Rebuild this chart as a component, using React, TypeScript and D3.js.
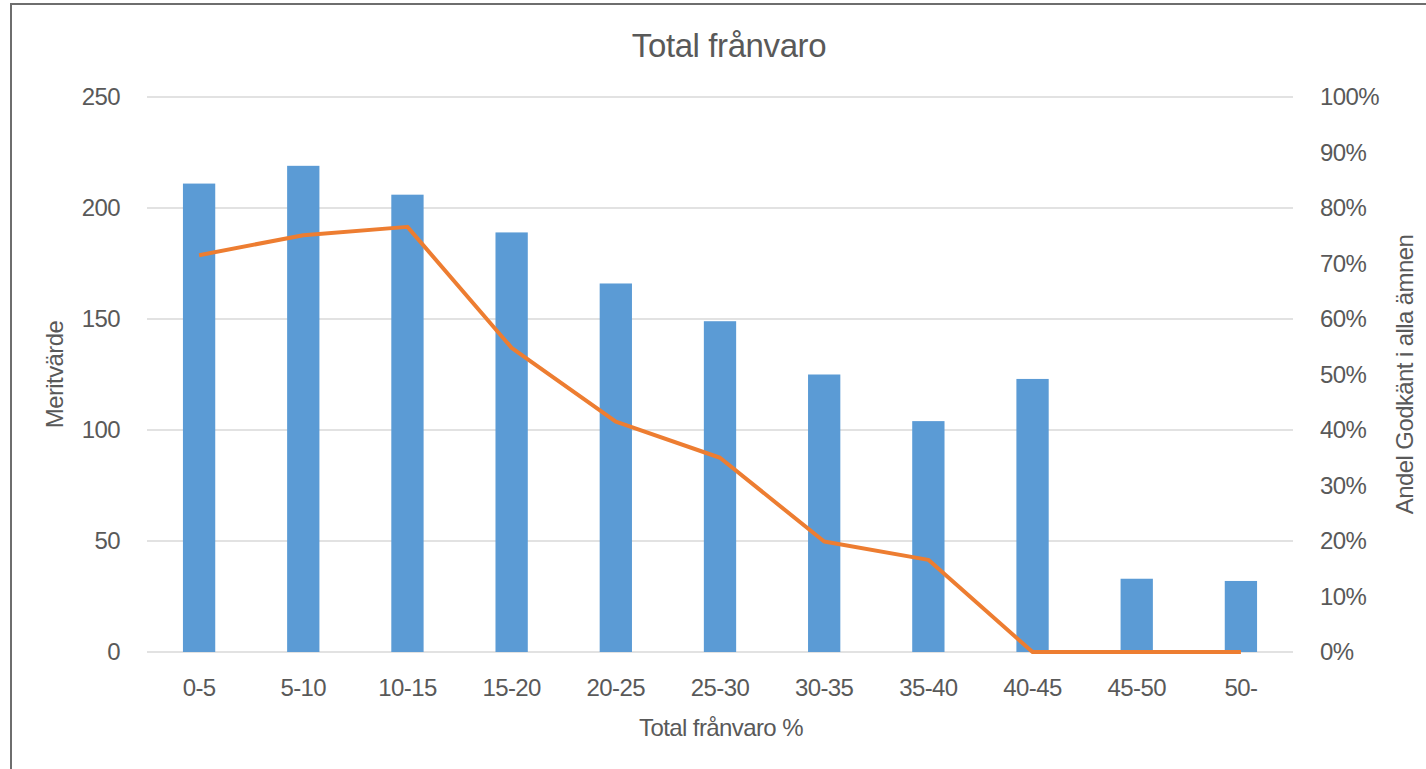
import React from "react";
import * as d3 from "d3";

// Absence bands (percent of total absence)
const categories = ["0-5", "5-10", "10-15", "15-20", "20-25", "25-30", "30-35", "35-40", "40-45", "45-50", "50-"];
// Mean merit value per band (left axis)
const meritValues = [211, 219, 206, 189, 166, 149, 125, 104, 123, 33, 32];
// Share passing all subjects, percent (right axis)
const passShare = [71.5, 75.1, 76.6, 54.8, 41.5, 35.0, 19.9, 16.6, 0, 0, 0];
const leftTicks = [0, 50, 100, 150, 200, 250];
const rightTicks = [0, 10, 20, 30, 40, 50, 60, 70, 80, 90, 100];

const W = 1426;
const H = 769;
const plot = { left: 147, right: 1293, top: 97, bottom: 652 };
const font = "'Liberation Sans', Arial, Helvetica, sans-serif";
const textColor = "#595959";
const labelSize = 24;
const labelSpacing = -0.6;

export default function App() {
  const x = d3
    .scaleBand<string>()
    .domain(categories)
    .range([plot.left, plot.right])
    .paddingInner(0.69)
    .paddingOuter(0.345);
  const yLeft = d3.scaleLinear().domain([0, 250]).range([plot.bottom, plot.top]);
  const yRight = d3.scaleLinear().domain([0, 100]).range([plot.bottom, plot.top]);

  const center = (c: string) => (x(c) ?? 0) + x.bandwidth() / 2;
  const linePath = d3
    .line<number>()
    .x((_, i) => center(categories[i]))
    .y((d) => yRight(d))(passShare);

  const midY = (plot.top + plot.bottom) / 2;

  const labelProps = {
    fontFamily: font,
    fontSize: labelSize,
    letterSpacing: labelSpacing,
    fill: textColor,
  };

  return (
    <svg
      width={W}
      height={H}
      viewBox={`0 0 ${W} ${H}`}
      style={{ position: "absolute", left: 0, top: 0, background: "#fff" }}
    >
      <rect x={0} y={0} width={W} height={H} fill="#fff" />
      {/* frame */}
      <line x1={11} y1={3} x2={11} y2={H} stroke="#6e6e6e" strokeWidth={2} />
      <line x1={10} y1={4} x2={W} y2={4} stroke="#6e6e6e" strokeWidth={2} />

      {/* title */}
      <text
        x={729}
        y={57}
        textAnchor="middle"
        fontFamily={font}
        fontSize={33}
        letterSpacing={-0.4}
        fill={textColor}
      >
        Total frånvaro
      </text>

      {/* gridlines */}
      {leftTicks.map((t) => (
        <line
          key={`g${t}`}
          x1={plot.left}
          x2={plot.right}
          y1={yLeft(t)}
          y2={yLeft(t)}
          stroke="#d9d9d9"
          strokeWidth={1.5}
        />
      ))}

      {/* bars */}
      {meritValues.map((v, i) => (
        <rect
          key={`b${i}`}
          x={x(categories[i])}
          y={yLeft(v)}
          width={x.bandwidth()}
          height={plot.bottom - yLeft(v)}
          fill="#5b9bd5"
        />
      ))}

      {/* pass-share line */}
      <path d={linePath ?? ""} fill="none" stroke="#ed7d31" strokeWidth={4} strokeLinejoin="round" />

      {/* left axis labels */}
      {leftTicks.map((t) => (
        <text key={`l${t}`} x={120} y={yLeft(t)} dy="0.35em" textAnchor="end" {...labelProps}>
          {t}
        </text>
      ))}

      {/* right axis labels */}
      {rightTicks.map((t) => (
        <text key={`r${t}`} x={1320} y={yRight(t)} dy="0.35em" textAnchor="start" {...labelProps}>
          {`${t}%`}
        </text>
      ))}

      {/* category labels */}
      {categories.map((c) => (
        <text key={`c${c}`} x={center(c)} y={688} dy="0.35em" textAnchor="middle" {...labelProps}>
          {c}
        </text>
      ))}

      {/* axis titles */}
      <text x={721} y={728} dy="0.35em" textAnchor="middle" {...labelProps}>
        Total frånvaro %
      </text>
      <text
        transform={`translate(55, ${midY}) rotate(-90)`}
        dy="0.35em"
        textAnchor="middle"
        {...labelProps}
      >
        Meritvärde
      </text>
      <text
        transform={`translate(1405, ${midY}) rotate(-90)`}
        dy="0.35em"
        textAnchor="middle"
        {...labelProps}
      >
        Andel Godkänt i alla ämnen
      </text>
    </svg>
  );
}
